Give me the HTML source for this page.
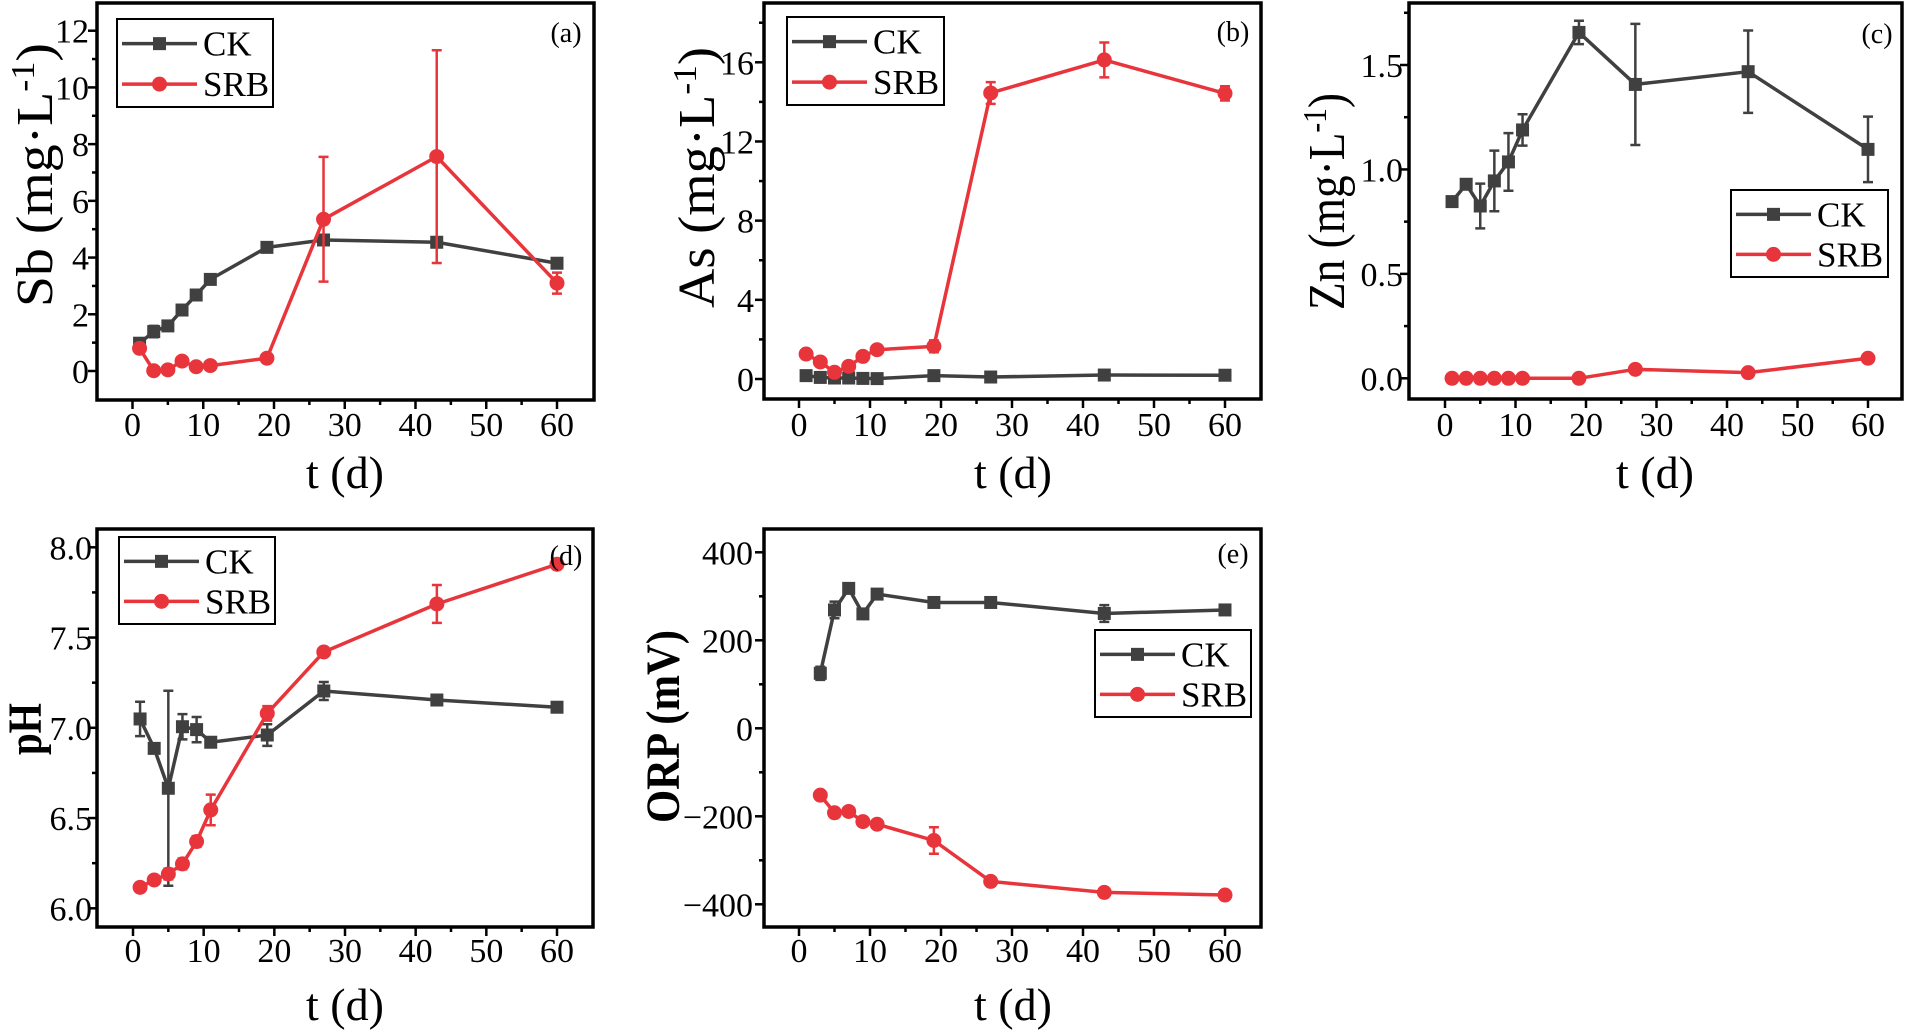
<!DOCTYPE html>
<html><head><meta charset="utf-8"><style>
html,body{margin:0;padding:0;background:#fff;}
svg{display:block;font-family:"Liberation Serif",serif;}
</style></head><body>
<svg id="fig" width="1905" height="1035" viewBox="0 0 1905 1035" xmlns="http://www.w3.org/2000/svg"></svg>
<script>
// ---- data ----
const days = [1,3,5,7,9,11,19,27,43,60];
const daysOrp = [3,5,7,9,11,19,27,43,60];
const xTicks = [0,10,20,30,40,50,60];

const sbCK = [0.98,1.39,1.59,2.15,2.68,3.23,4.36,4.62,4.54,3.80];
const sbCKErr = [0.1,0.2,0.1,0.1,0.1,0.1,0.1,0.1,0.1,0.1];
const sbSRB = [0.80,0.01,0.04,0.35,0.15,0.19,0.45,5.35,7.56,3.10];
const sbSRBErr = [0.1,0.05,0.1,0.1,0.1,0.1,0.15,2.2,3.75,0.37];
const sbTicks = [0,2,4,6,8,10,12];

const asCK = [0.17,0.08,0.05,0.05,0.03,0.02,0.17,0.10,0.20,0.19];
const asCKErr = [0.1,0.05,0.05,0.05,0.05,0.05,0.1,0.05,0.1,0.1];
const asSRB = [1.26,0.86,0.34,0.64,1.14,1.48,1.65,14.45,16.12,14.43];
const asSRBErr = [0.1,0.1,0.2,0.1,0.1,0.1,0.3,0.55,0.88,0.36];
const asTicks = [0,4,8,12,16];

const znCK = [0.846,0.929,0.825,0.945,1.036,1.189,1.656,1.407,1.468,1.096];
const znCKErr = [0.02,0.02,0.107,0.145,0.138,0.075,0.056,0.29,0.197,0.157];
const znSRB = [0,0,0,0,0,0,0,0.043,0.027,0.096];
const znSRBErr = [0,0,0,0,0,0,0,0,0,0];
const znTicks = [0.0,0.5,1.0,1.5];

const phCK = [7.049,6.886,6.665,7.006,6.99,6.92,6.96,7.204,7.154,7.114];
const phCKErr = [0.095,0.02,0.54,0.07,0.07,0.02,0.06,0.05,0.02,0.02];
const phSRB = [6.116,6.157,6.19,6.246,6.37,6.545,7.08,7.42,7.686,7.906];
const phSRBErr = [0.02,0.02,0.03,0.03,0.03,0.085,0.04,0.02,0.105,0.02];
const phTicks = [6.0,6.5,7.0,7.5,8.0];

const orpCK = [125,269,318,260,305,286,286,261,269];
const orpCKErr = [15,19,10,8,8,8,8,19,8];
const orpSRB = [-152,-192,-189,-212,-218,-255,-348,-373,-379];
const orpSRBErr = [8,8,8,8,8,30,8,8,8];
const orpTicks = [-400,-200,0,200,400];

const seriesNames = ["CK","SRB"];

// ---- drawing ----
const NS="http://www.w3.org/2000/svg";
const svg=document.getElementById('fig');
const CK_COL="#404040", SRB_COL="#e8353b";
const TICK_FS=34, LEG_FS=35;
function mk(tag,parent){const e=document.createElementNS(NS,tag);parent.appendChild(e);return e;}

function panel(cfg){
  const g=mk('g',svg);
  
  
  const [L,T,R,B]=cfg.frame;
  const sx=v=>cfg.xp0+(v-0)*(cfg.xp60-cfg.xp0)/60;
  const sy=v=>cfg.ya[1]+(v-cfg.ya[0])*(cfg.yb[1]-cfg.ya[1])/(cfg.yb[0]-cfg.ya[0]);
  const tg=mk('g',g);
  
  
  for(let v=-5;v<=65;v+=5){
    const x=sx(v); if(x<=L+2||x>=R-2) continue;
    const major=v%10===0;
    const l=mk('line',tg);
    
    
    l.setAttribute('x1',x);l.setAttribute('x2',x);l.setAttribute('y1',B);l.setAttribute('y2',B+(major?9:5));
    l.setAttribute('stroke','#000');l.setAttribute('stroke-width',2.5);
  }
  xTicks.forEach(v=>{
    const t=mk('text',tg);
    
    
    t.setAttribute('x',sx(v));t.setAttribute('y',cfg.xlabY+1);t.setAttribute('text-anchor','middle');
    t.setAttribute('font-size',TICK_FS);t.textContent=v;
  });
  const yg=mk('g',g);
  
  
  const n=Math.round((cfg.ymax-cfg.ymin)/cfg.minor);
  for(let i=0;i<=n;i++){
    const v=cfg.ymin+i*cfg.minor; const y=sy(v);
    if(y<=T+2||y>=B-2) continue;
    const major=Math.abs(v/cfg.major-Math.round(v/cfg.major))<1e-6;
    const l=mk('line',yg);
    
    
    l.setAttribute('x1',L);l.setAttribute('x2',L-(major?9:5));l.setAttribute('y1',y);l.setAttribute('y2',y);
    l.setAttribute('stroke','#000');l.setAttribute('stroke-width',2.5);
  }
  cfg.yticks.forEach(v=>{
    const t=mk('text',yg);
    
    
    t.setAttribute('x',cfg.ylabR);t.setAttribute('y',sy(v)+12);t.setAttribute('text-anchor','end');
    t.setAttribute('font-size',TICK_FS);t.textContent=(v<0?'\u2212':'')+Math.abs(v).toFixed(cfg.dec);
  });
  const ser=[{name:'ck',col:CK_COL,vals:cfg.ck,err:cfg.ckErr,sq:true},{name:'srb',col:SRB_COL,vals:cfg.srb,err:cfg.srbErr,sq:false}];
  ser.forEach(s=>{
    const sg=mk('g',g);
    
    
    const pts=s.vals.map((v,i)=>sx(cfg.xs[i])+','+sy(v)).join(' ');
    const pl=mk('polyline',sg);
    
    
    pl.setAttribute('points',pts);pl.setAttribute('fill','none');pl.setAttribute('stroke',s.col);pl.setAttribute('stroke-width',3.5);pl.setAttribute('stroke-linejoin','round');
    s.vals.forEach((v,i)=>{
      const x=sx(cfg.xs[i]), e=s.err[i];
      if(e>0){
        const y1=sy(v+e), y2=sy(v-e);
        const eb=mk('path',sg);
        
        
        eb.setAttribute('d',`M${x},${y1}V${y2}M${x-5},${y1}H${x+5}M${x-5},${y2}H${x+5}`);
        eb.setAttribute('stroke',s.col);eb.setAttribute('stroke-width',2.5);eb.setAttribute('fill','none');
      }
      let m;
      if(s.sq){m=mk('rect',sg);m.setAttribute('x',x-6.5);m.setAttribute('y',sy(v)-6.5);m.setAttribute('width',13);m.setAttribute('height',13);}
      else{m=mk('circle',sg);m.setAttribute('cx',x);m.setAttribute('cy',sy(v));m.setAttribute('r',7.5);}
      
      
      m.setAttribute('fill',s.col);
    });
  });
  const fr=mk('rect',g);
  
  
  fr.setAttribute('x',L);fr.setAttribute('y',T);fr.setAttribute('width',R-L);fr.setAttribute('height',B-T);
  fr.setAttribute('fill','none');fr.setAttribute('stroke','#000');fr.setAttribute('stroke-width',3.5);
  const pl=mk('text',g);
  
  
  pl.setAttribute('x',cfg.lab[0]);pl.setAttribute('y',cfg.lab[1]+2);pl.setAttribute('text-anchor','middle');pl.setAttribute('font-size',28);
  pl.textContent='('+cfg.id+')';
  const lg=mk('g',g);
  
  
  const [lx1,ly1,lx2,ly2]=cfg.leg;
  const lb=mk('rect',lg);
  
  
  lb.setAttribute('x',lx1);lb.setAttribute('y',ly1);lb.setAttribute('width',lx2-lx1);lb.setAttribute('height',ly2-ly1);
  lb.setAttribute('fill','#fff');lb.setAttribute('stroke','#000');lb.setAttribute('stroke-width',2);
  seriesNames.forEach((nm,k)=>{
    const ry=ly1+(ly2-ly1)*(k===0?0.28:0.74);
    const col=k===0?CK_COL:SRB_COL;
    const ln=mk('line',lg);
    
    
    ln.setAttribute('x1',lx1+5);ln.setAttribute('x2',lx1+80);ln.setAttribute('y1',ry);ln.setAttribute('y2',ry);
    ln.setAttribute('stroke',col);ln.setAttribute('stroke-width',3.5);
    let m;
    if(k===0){m=mk('rect',lg);m.setAttribute('x',lx1+36);m.setAttribute('y',ry-6.5);m.setAttribute('width',13);m.setAttribute('height',13);}
    else{m=mk('circle',lg);m.setAttribute('cx',lx1+42.5);m.setAttribute('cy',ry);m.setAttribute('r',7.5);}
    
    
    m.setAttribute('fill',col);
    const t=mk('text',lg);
    
    
    t.setAttribute('x',lx1+86);t.setAttribute('y',ry+12);t.setAttribute('font-size',LEG_FS);t.textContent=nm;
  });
  const xt=mk('text',g);
  
  
  xt.setAttribute('x',cfg.xt[0]);xt.setAttribute('y',cfg.xt[1]);xt.setAttribute('text-anchor','middle');xt.setAttribute('font-size',46);
  xt.textContent='t (d)';
  const yt=mk('text',g);
  
  
  const [bx,c1,c2]=cfg.yt; const cy=(c1+c2)/2;
  yt.setAttribute('transform',`translate(${bx},${cy}) rotate(-90)`);
  yt.setAttribute('text-anchor','middle');yt.setAttribute('font-size',cfg.ytSize);
  if(cfg.ytBold) yt.setAttribute('font-weight','bold');
  yt.setAttribute('textLength',c2-c1);yt.setAttribute('lengthAdjust','spacingAndGlyphs');
  if(cfg.unit){
    yt.textContent=cfg.ytitle+' (mg\u00b7L';
    const sup=mk('tspan',yt);
    
    
    sup.setAttribute('dy',-18);sup.setAttribute('font-size',cfg.ytSize*0.65);sup.textContent='-1';
    const cl=mk('tspan',yt);
    
    
    cl.setAttribute('dy',18);cl.textContent=')';
  } else yt.textContent=cfg.ytitle;
}

panel({id:'a',frame:[97,3,594,400],xp0:132.5,xp60:557,ya:[0,371],yb:[12,30.7],ymin:-2,ymax:14,major:2,minor:1,yticks:sbTicks,dec:0,
  xs:days,ck:sbCK,ckErr:sbCKErr,srb:sbSRB,srbErr:sbSRBErr,xlabY:435,ylabR:89,lab:[566,40],leg:[117,19,273,107],
  xt:[345,488],yt:[52,43,307],ytitle:'Sb',unit:true,ytSize:52});
panel({id:'b',frame:[764,3,1261,399],xp0:799,xp60:1225,ya:[0,379],yb:[16,62.3],ymin:-2,ymax:20,major:4,minor:2,yticks:asTicks,dec:0,
  xs:days,ck:asCK,ckErr:asCKErr,srb:asSRB,srbErr:asSRBErr,xlabY:435,ylabR:754,lab:[1233,39],leg:[787,17,944,105],
  xt:[1013,488],yt:[714,47,308],ytitle:'As',unit:true,ytSize:52});
panel({id:'c',frame:[1409,3,1902,399],xp0:1445,xp60:1868,ya:[0,378.3],yb:[1.5,65],ymin:-0.25,ymax:2,major:0.5,minor:0.25,yticks:znTicks,dec:1,
  xs:days,ck:znCK,ckErr:znCKErr,srb:znSRB,srbErr:znSRBErr,xlabY:435,ylabR:1403,lab:[1877,41],leg:[1731,190,1888,277],
  xt:[1655,488],yt:[1344,93,310],ytitle:'Zn',unit:true,ytSize:52});
panel({id:'d',frame:[97,529,593,927],xp0:133,xp60:557,ya:[6.0,908.3],yb:[8.0,547.3],ymin:5.75,ymax:8.25,major:0.5,minor:0.25,yticks:phTicks,dec:1,
  xs:days,ck:phCK,ckErr:phCKErr,srb:phSRB,srbErr:phSRBErr,xlabY:961,ylabR:92,lab:[566,563],leg:[119,537,275,624],
  xt:[345,1020],yt:[41,703,755],ytitle:'pH',unit:false,ytSize:48,ytBold:true});
panel({id:'e',frame:[764,529,1261,927],xp0:799,xp60:1225,ya:[0,728.3],yb:[400,552.3],ymin:-500,ymax:500,major:200,minor:100,yticks:orpTicks,dec:0,
  xs:daysOrp,ck:orpCK,ckErr:orpCKErr,srb:orpSRB,srbErr:orpSRBErr,xlabY:961,ylabR:753,lab:[1233,561],leg:[1095,630,1251,717],
  xt:[1013,1020],yt:[679,630,823],ytitle:'ORP (mV)',unit:false,ytSize:48,ytBold:true});
</script>
</body></html>
